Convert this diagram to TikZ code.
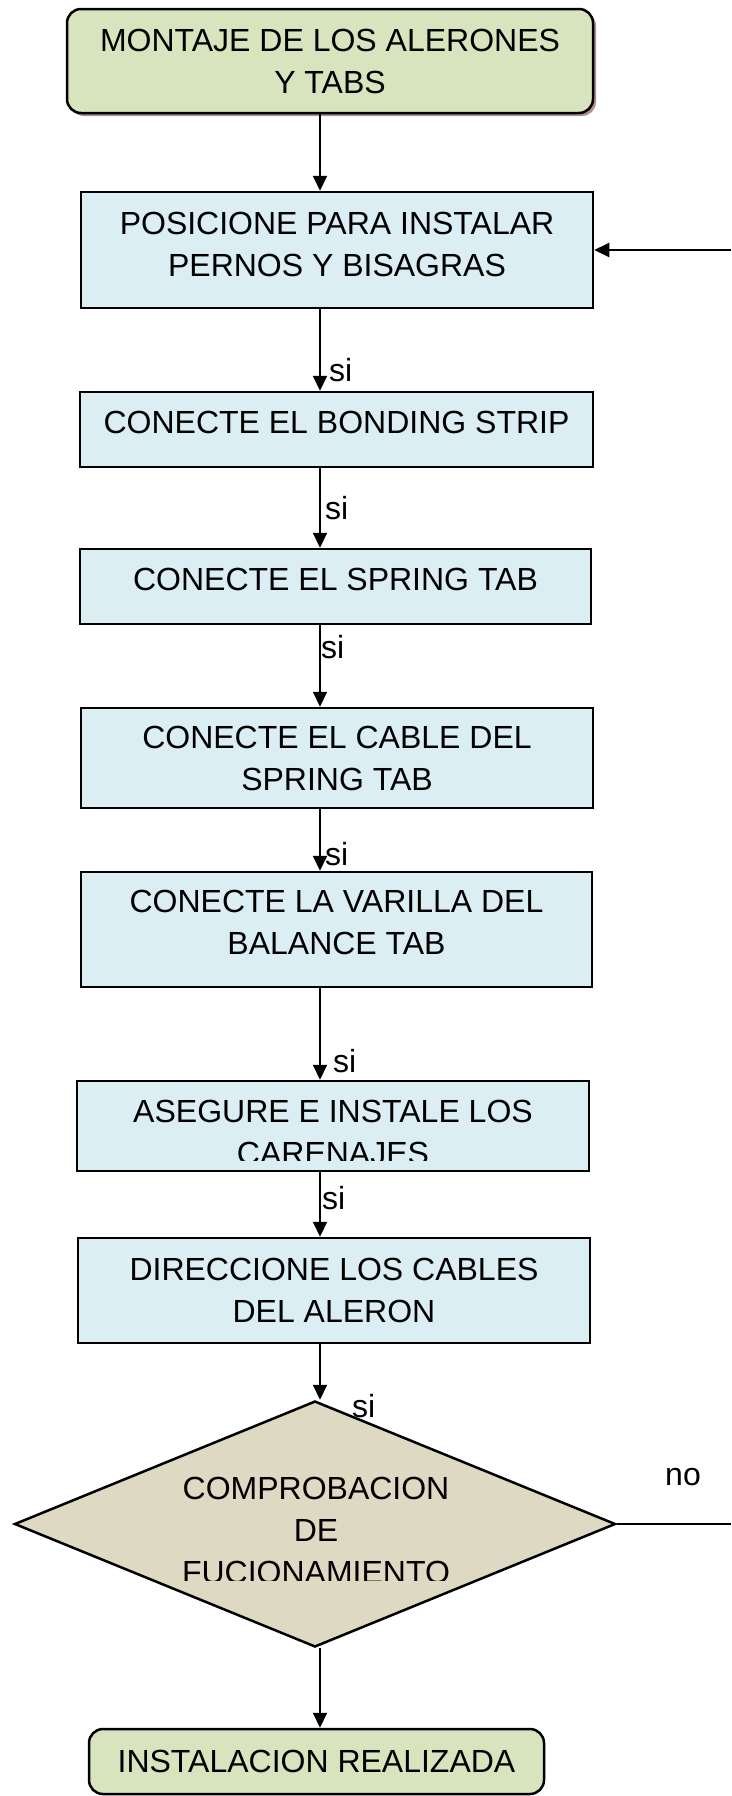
\documentclass[tikz,border=0pt]{standalone}
\usepackage{fontspec}
\setmainfont{Liberation Sans}
\usetikzlibrary{shapes.geometric,arrows.meta,shadows}
\definecolor{gfill}{HTML}{D7E4BD}
\definecolor{bfill}{HTML}{DAEEF3}
\definecolor{dfill}{HTML}{DDD9C3}
\definecolor{shadowc}{HTML}{B38F8F}
\begin{document}
\begin{tikzpicture}[x=1pt,y=-1pt,
  every node/.style={font=\fontsize{32}{42}\selectfont},
  boxg/.style={draw=black, line width=2.5pt, fill=gfill, rounded corners=14pt, inner sep=0pt, align=center},
  boxb/.style={draw=black, line width=2.5pt, fill=bfill, inner sep=0pt, align=center},
  arr/.style={line width=2pt, -{Triangle[length=15pt,width=14pt]}},
  plain/.style={line width=2pt},
  lbl/.style={inner sep=0pt, anchor=west},
  txt/.style={inner sep=0pt, align=center},
]
\useasboundingbox (0,0) rectangle (731,1796);
\fill[white] (0,0) rectangle (731,1796);

% top box with shadow
\node[boxg, draw=none, fill=shadowc, minimum width=526pt, minimum height=104pt] (topshadow) at (333,64) {};
\node[boxg, minimum width=526pt, minimum height=104pt] (top) at (330,61) {MONTAJE DE LOS ALERONES\\Y TABS};

\node[boxb, minimum width=512pt, minimum height=116pt, text depth=11pt] (b2) at (337,250) {POSICIONE PARA INSTALAR\\PERNOS Y BISAGRAS};
\node[boxb, minimum width=513pt, minimum height=75pt, text depth=14pt] (b3) at (336.5,429.5) {CONECTE EL BONDING STRIP};
\node[boxb, minimum width=511pt, minimum height=75pt, text depth=14pt] (b4) at (335.5,586.5) {CONECTE EL SPRING TAB};
\node[boxb, minimum width=512pt, minimum height=100pt] (b5) at (337,758) {CONECTE EL CABLE DEL\\SPRING TAB};
\node[boxb, minimum width=511pt, minimum height=115pt, text depth=14pt] (b6) at (336.5,929.5) {CONECTE LA VARILLA DEL\\BALANCE TAB};

\node[boxb, minimum width=512pt, minimum height=90pt] (b7) at (333,1126) {};
\begin{scope}
  \clip (77,1081) rectangle (589,1160);
  \node[txt] (b7t) at (333,1132) {ASEGURE E INSTALE LOS\\CARENAJES};
\end{scope}

\node[boxb, minimum width=512pt, minimum height=105pt] (b8) at (334,1290.5) {DIRECCIONE LOS CABLES\\DEL ALERON};

\node[draw=black, diamond, line width=2.5pt, fill=dfill, minimum width=601pt, minimum height=246pt, inner sep=0pt] (d) at (315,1524) {};
\begin{scope}
  \clip (0,1400) rectangle (731,1580);
  \node[txt] (dt) at (316,1530) {COMPROBACION\\DE\\FUCIONAMIENTO};
\end{scope}

\node[boxg, minimum width=455pt, minimum height=65pt] (fin) at (316.5,1761.5) {INSTALACION REALIZADA};

% connectors
\coordinate (X) at (320,0);
\coordinate (E1) at (731,250);
\coordinate (E2) at (731,1524);
\draw[arr] (top.south -| X) -- (b2.north -| X);
\draw[arr] (b2.south -| X) -- (b3.north -| X);
\draw[arr] (b3.south -| X) -- (b4.north -| X);
\draw[arr] (b4.south -| X) -- (b5.north -| X);
\draw[arr] (b5.south -| X) -- (b6.north -| X);
\draw[arr] (b6.south -| X) -- (b7.north -| X);
\draw[arr] (b7.south -| X) -- (b8.north -| X);
\draw[arr] (b8.south -| X) -- (d.north -| X);
\draw[arr] (d.south -| X) -- (fin.north -| X);
\draw[arr] (E1) -- (b2.east);
\draw[plain] (d.east) -- (E2);

% labels
\node[lbl] (s1) at (329,370) {si};
\node[lbl] (s2) at (325,508) {si};
\node[lbl] (s3) at (321,647) {si};
\node[lbl] (s4) at (325,854) {si};
\node[lbl] (s5) at (333,1061) {si};
\node[lbl] (s6) at (322,1198) {si};
\node[lbl] (s7) at (352,1406) {si};
\node[inner sep=0pt] (no) at (683,1477) {no};
\end{tikzpicture}
\end{document}
